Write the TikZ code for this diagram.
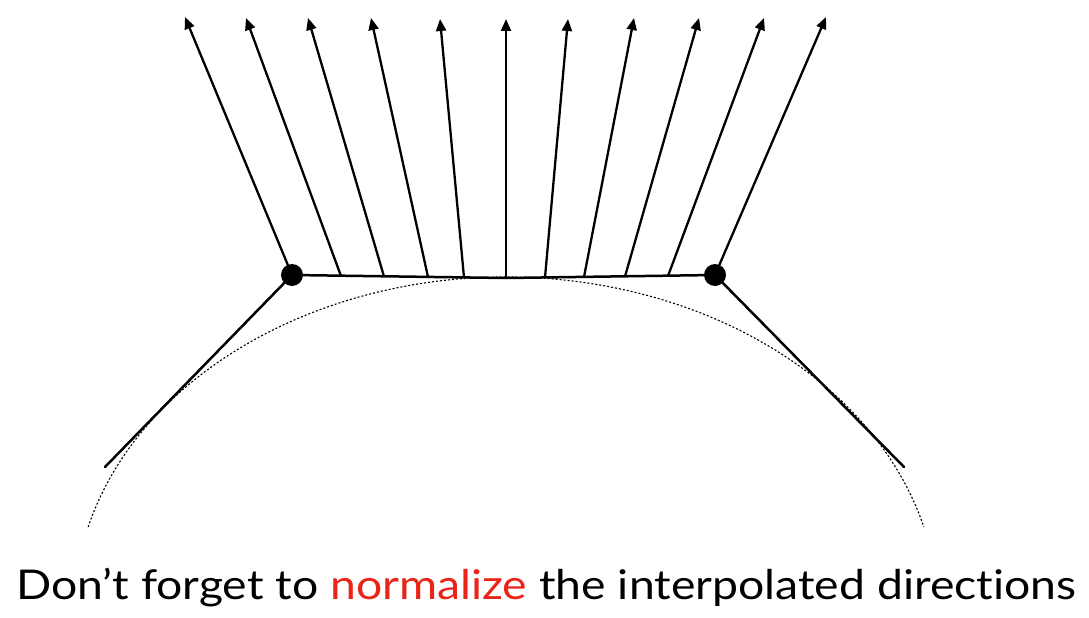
\documentclass[tikz,border=0pt]{standalone}
\usepackage{fontspec}
\setmainfont{Lato}[Ligatures=NoCommon]
\usetikzlibrary{arrows.meta}
\definecolor{hired}{RGB}{235,35,25}
\begin{document}
\begin{tikzpicture}[x=1pt,y=-1pt,
  vec/.style={line width=2.3pt,-{Triangle[length=12pt,width=10pt]}},
  seg/.style={line width=2.5pt},
  dotpt/.style={circle,fill=black,inner sep=0pt,minimum size=22pt},
  arcdash/.style={line width=1.1pt,dash pattern=on 2pt off 2pt}]
\useasboundingbox (0,0) rectangle (1089,618);
% dashed elliptic arc: centre (506,612), radii 432 x 335
\draw[arcdash] (506,612) ++(-165.3:432 and 335) arc[start angle=-165.3,end angle=-14.7,x radius=432,y radius=335];
% base points
\coordinate (b1) at (292,275);
\coordinate (b2) at (341,276);
\coordinate (b3) at (384,276.5);
\coordinate (b4) at (428,277);
\coordinate (b5) at (464,277.5);
\coordinate (b6) at (506,278);
\coordinate (b7) at (545,277.5);
\coordinate (b8) at (584,277);
\coordinate (b9) at (625,276.5);
\coordinate (b10) at (668,276);
\coordinate (b11) at (715,275);
% tips
\coordinate (t1) at (185,17);
\coordinate (t2) at (246,18);
\coordinate (t3) at (308,18);
\coordinate (t4) at (371,18);
\coordinate (t5) at (440,19);
\coordinate (t6) at (506,19);
\coordinate (t7) at (568,19);
\coordinate (t8) at (634,18);
\coordinate (t9) at (699,18);
\coordinate (t10) at (764,18);
\coordinate (t11) at (826,17);
% tangent ends
\coordinate (l0) at (105,467);
\coordinate (r0) at (904,467);
\draw[seg,line cap=round] (l0) -- (b1);
\draw[seg,line cap=round] (r0) -- (b11);
\draw[seg] (b1) -- (b6) -- (b11);
\foreach \i in {1,...,11}{\draw[vec] (b\i) -- (t\i);}
\node[dotpt] (p1) at (b1) {};
\node[dotpt] (p2) at (b11) {};
\node[anchor=base,inner sep=0pt,font=\fontsize{41pt}{48pt}\selectfont] (cap) at (546.5,599)
  {\scalebox{1.13}[1]{Don’t forget to \textcolor{hired}{normalize} the interpolated directions}};
\end{tikzpicture}
\end{document}
